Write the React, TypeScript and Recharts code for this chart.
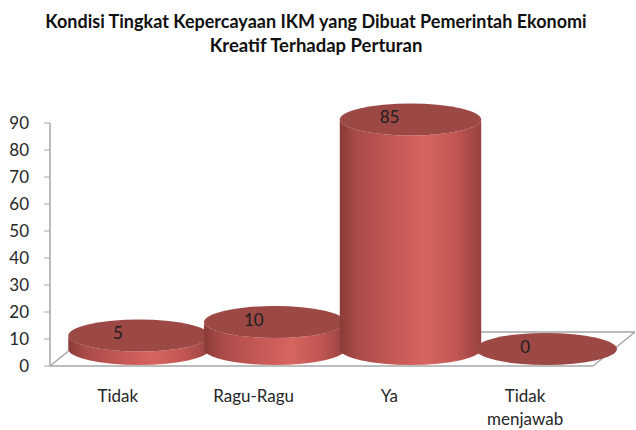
import React from "react";
import { Bar, BarChart, LabelList, XAxis, YAxis, usePlotArea } from "recharts";

document.body.style.margin = "0";

const categories = ["Tidak", "Ragu-Ragu", "Ya", "Tidak menjawab"];
const values = [5, 10, 85, 0];
const yTicks = [0, 10, 20, 30, 40, 50, 60, 70, 80, 90];

const data = categories.map((name, i) => ({ name, value: values[i] }));

const FONT = "Lato, 'Open Sans', sans-serif";
const GRAY = "#a6a6a6";
// 3D depth of the floor (px)
const DX = 42;
const DY = 34;
const RY = 16;

const Floor = () => {
  const area = usePlotArea();
  if (!area) return null;
  const left = area.x;
  const right = area.x + area.width;
  const bottom = area.y + area.height;
  return (
    <g stroke={GRAY} strokeWidth={1.5} fill="none">
      <line x1={left} y1={bottom} x2={left + DX} y2={bottom - DY} />
      <line x1={left + DX} y1={bottom - DY} x2={right + DX} y2={bottom - DY} />
      <line x1={right} y1={bottom} x2={right + DX} y2={bottom - DY} />
    </g>
  );
};

const Cylinder = (props: any) => {
  const { x, y, width, height, index } = props;
  const rx = width * 0.52;
  const cx = x + width / 2 + DX / 2;
  const yTop = y - DY / 2;
  const yBot = y + (height || 0) - DY / 2;
  const id = `side-${index}`;
  return (
    <g>
      <defs>
        <linearGradient id={id} x1="0" y1="0" x2="1" y2="0">
          <stop offset="0%" stopColor="#8a3b38" />
          <stop offset="12%" stopColor="#a94b48" />
          <stop offset="45%" stopColor="#cc5c59" />
          <stop offset="62%" stopColor="#d6645f" />
          <stop offset="82%" stopColor="#c25653" />
          <stop offset="100%" stopColor="#97423f" />
        </linearGradient>
      </defs>
      {yBot - yTop > 0.5 && (
        <path
          d={`M${cx - rx},${yTop} L${cx - rx},${yBot} A${rx},${RY} 0 0 0 ${cx + rx},${yBot} L${cx + rx},${yTop} A${rx},${RY} 0 0 1 ${cx - rx},${yTop} Z`}
          fill={`url(#${id})`}
        />
      )}
      <ellipse cx={cx} cy={yTop} rx={rx} ry={RY} fill="#9c4945" />
    </g>
  );
};

const ValueLabel = (props: any) => {
  const { x, y, width, value } = props;
  return (
    <text
      x={x + width / 2}
      y={y - 20}
      textAnchor="middle"
      dominantBaseline="central"
      fontFamily={FONT}
      fontSize={17}
      fill="#1e1e1e"
    >
      {value}
    </text>
  );
};

const CategoryTick = (props: any) => {
  const { x, y, payload } = props;
  const words: string[] = String(payload.value).split(" ");
  const lines = payload.value.length > 10 ? words : [payload.value];
  return (
    <text x={x} y={y} textAnchor="middle" fontFamily={FONT} fontSize={17} fill="#262626">
      {lines.map((l, i) => (
        <tspan key={i} x={x} dy={i === 0 ? "0.71em" : 23}>
          {l}
        </tspan>
      ))}
    </text>
  );
};

export default function App() {
  return (
    <div style={{ position: "relative", width: 636, height: 430, background: "#fff" }}>
      <svg width={636} height={60} style={{ position: "absolute", left: 0, top: 0 }}>
        <text x={316} y={28} textAnchor="middle" fontFamily={FONT} fontWeight={700} fontSize={18} fill="#111">
          Kondisi Tingkat Kepercayaan IKM yang Dibuat Pemerintah Ekonomi
        </text>
        <text x={316} y={52} textAnchor="middle" fontFamily={FONT} fontWeight={700} fontSize={18.5} fill="#111">
          Kreatif Terhadap Perturan
        </text>
      </svg>
      <BarChart
        width={636}
        height={430}
        data={data}
        margin={{ top: 123, right: 43, bottom: 4, left: 0 }}
        barCategoryGap={0}
        barGap={0}
        style={{ position: "absolute", left: 0, top: 0 }}
      >
        <Floor />
        <XAxis
          dataKey="name"
          axisLine={{ stroke: GRAY, strokeWidth: 1.5 }}
          tickLine={false}
          tickSize={0}
          tickMargin={24}
          height={60}
          interval={0}
          tick={<CategoryTick />}
        />
        <YAxis
          width={50}
          domain={[0, 90]}
          ticks={yTicks}
          interval={0}
          axisLine={{ stroke: GRAY, strokeWidth: 1.5 }}
          tickLine={{ stroke: GRAY }}
          tickSize={6}
          tickMargin={15}
          tick={{ fontFamily: FONT, fontSize: 17, fill: "#262626" }}
        />
        <Bar dataKey="value" shape={<Cylinder />} isAnimationActive={false}>
          <LabelList dataKey="value" content={<ValueLabel />} />
        </Bar>
      </BarChart>
    </div>
  );
}
